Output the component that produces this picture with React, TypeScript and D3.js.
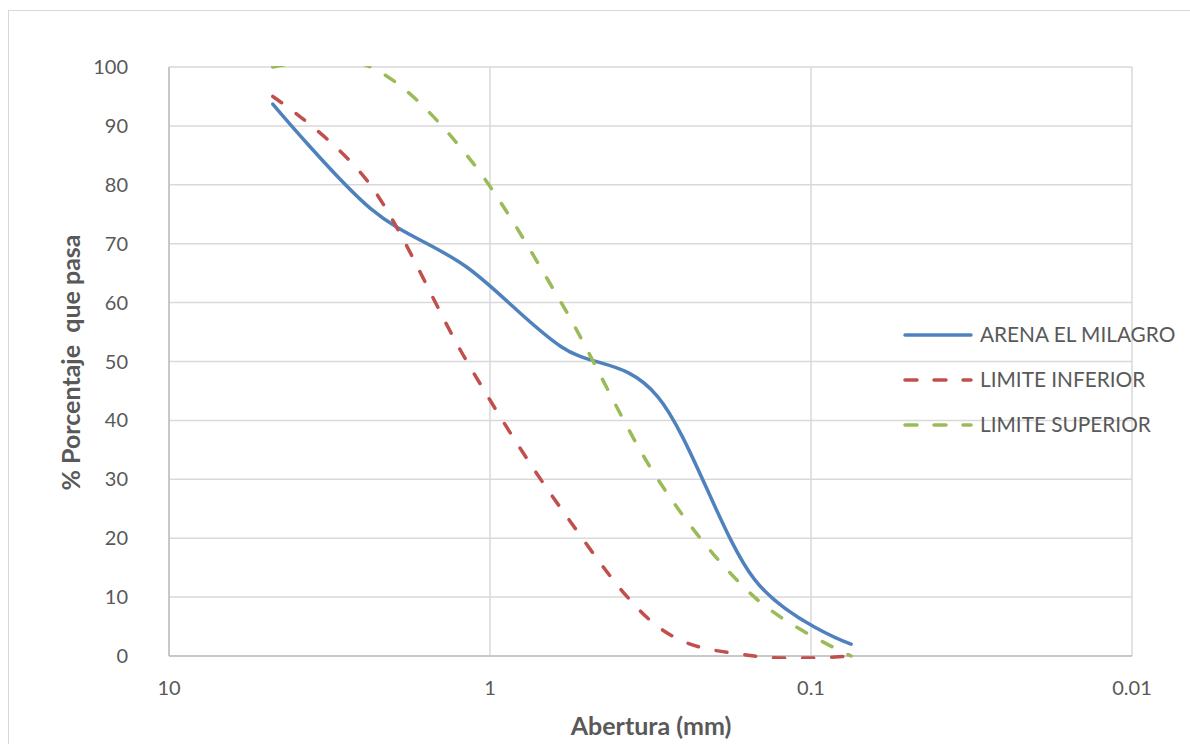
import React from "react";
import * as d3 from "d3";

const sieves = [4.75, 2.36, 1.18, 0.6, 0.3, 0.15, 0.075];
const arena = [93.7, 76, 66, 52.5, 44, 13, 2];
const limInf = [95, 80, 50, 25, 5, 0, 0];
const limSup = [100, 100, 85, 60, 30, 10, 0];
const xTicks = [10, 1, 0.1, 0.01];
const xTickLabels = ["10", "1", "0.1", "0.01"];
const yTicks = [0, 10, 20, 30, 40, 50, 60, 70, 80, 90, 100];

const seriesNames = ["ARENA EL MILAGRO", "LIMITE INFERIOR", "LIMITE SUPERIOR"];
const seriesValues = [arena, limInf, limSup];
const seriesColors = ["#4F81BD", "#C0504D", "#9BBB59"];
const seriesDash = [null, "11 18", "11 18"];

export default function App() {
  const W = 1190, H = 744;
  const left = 169, right = 1132, top = 67, bottom = 656;
  const x = d3.scaleLog().domain([10, 0.01]).range([left, right]);
  const y = d3.scaleLinear().domain([0, 100]).range([bottom, top]);
  const line = d3
    .line<[number, number]>()
    .x((d) => x(d[0]))
    .y((d) => y(d[1]))
    .curve(d3.curveCardinal.tension(0));
  const font = "Lato, 'Open Sans', sans-serif";
  const tickColor = "#595959";
  const legendY = [335, 380, 425];

  return (
    <svg
      width={W}
      height={H}
      style={{ position: "absolute", left: 0, top: 0, display: "block" }}
    >
      <defs>
        <clipPath id="plotClip">
          <rect x={left - 2} y={top - 1} width={right - left + 4} height={bottom - top + 4} />
        </clipPath>
      </defs>
      <rect x={0} y={0} width={W} height={H} fill="#fff" />
      <rect x={8.5} y={10.5} width={W + 20} height={H + 20} fill="none" stroke="#d9d9d9" strokeWidth={1} />
      {yTicks.map((t) => (
        <line key={"gy" + t} x1={left} x2={right} y1={y(t)} y2={y(t)} stroke="#d9d9d9" strokeWidth={1.5} />
      ))}
      {xTicks.map((t) => (
        <line key={"gx" + t} x1={x(t)} x2={x(t)} y1={top} y2={bottom} stroke="#d9d9d9" strokeWidth={1.5} />
      ))}
      <line x1={left} x2={left} y1={top} y2={bottom} stroke="#bfbfbf" strokeWidth={1.5} />
      <line x1={left} x2={right} y1={bottom} y2={bottom} stroke="#bfbfbf" strokeWidth={1.5} />
      {yTicks.map((t) => (
        <text key={"ty" + t} x={128} y={y(t)} dy="0.35em" textAnchor="end" fontFamily={font} fontSize={20} fill={tickColor}>
          {t}
        </text>
      ))}
      {xTicks.map((t, i) => (
        <text key={"tx" + t} x={x(t)} y={695} textAnchor="middle" fontFamily={font} fontSize={20} fill={tickColor}>
          {xTickLabels[i]}
        </text>
      ))}
      <text x={651} y={735} textAnchor="middle" fontFamily={font} fontWeight="bold" fontSize={25} fill={tickColor}>
        Abertura (mm)
      </text>
      <text
        transform={`translate(80,${(235 + 490) / 2}) rotate(-90)`}
        textAnchor="middle"
        fontFamily={font}
        fontWeight="bold"
        fontSize={25}
        fill={tickColor}
        style={{ whiteSpace: "pre" }}
      >
        {"% Porcentaje  que pasa"}
      </text>
      <g clipPath="url(#plotClip)">
        {seriesValues.map((vals, i) => (
          <path
            key={"s" + i}
            d={line(sieves.map((s, j) => [s, vals[j]] as [number, number])) || ""}
            fill="none"
            stroke={seriesColors[i]}
            strokeWidth={3.5}
            strokeLinecap="round"
            strokeDasharray={seriesDash[i] || undefined}
          />
        ))}
      </g>
      {seriesNames.map((n, i) => (
        <g key={"l" + i}>
          <line
            x1={905}
            x2={971}
            y1={legendY[i]}
            y2={legendY[i]}
            stroke={seriesColors[i]}
            strokeWidth={3.5}
            strokeLinecap="round"
            strokeDasharray={seriesDash[i] ? "12 17" : undefined}
          />
          <text x={980} y={legendY[i]} dy="0.35em" fontFamily={font} fontSize={20.8} fill={tickColor}>
            {n}
          </text>
        </g>
      ))}
    </svg>
  );
}
